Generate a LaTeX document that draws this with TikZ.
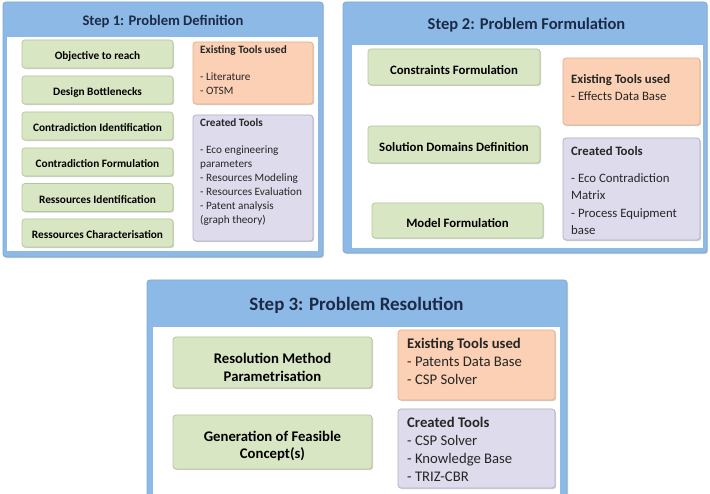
\documentclass[tikz,border=0pt]{standalone}
\usepackage{fontspec}
\setmainfont{Carlito}
\usetikzlibrary{shadows}
\definecolor{panelblue}{HTML}{8DB9E6}
\definecolor{panelborder}{HTML}{7EA9D8}
\definecolor{greenfill}{HTML}{D9E6C3}
\definecolor{greendraw}{HTML}{B3C799}
\definecolor{orangefill}{HTML}{FBD0B4}
\definecolor{orangedraw}{HTML}{E2AE8E}
\definecolor{purplefill}{HTML}{DEDCEC}
\definecolor{purpledraw}{HTML}{B0AEC2}
\definecolor{titletext}{HTML}{1B2A47}
\definecolor{bodytext}{HTML}{262626}
\begin{document}
\begin{tikzpicture}[x=1pt,y=-1pt,
  softshadow/.style={drop shadow={shadow xshift=1.1pt, shadow yshift=-1.1pt, fill=black, opacity=0.18}},
  panel/.style={draw=panelborder, fill=panelblue, rounded corners=3pt, line width=0.8pt, softshadow},
  innerwhite/.style={fill=white},
  steptitle/.style={text=titletext, font=\bfseries, inner sep=0pt},
  stepbox/.style={draw=greendraw, fill=greenfill, rounded corners=3pt, line width=0.7pt, inner sep=0pt, softshadow},
  steplabel/.style={align=center, inner sep=0pt, text=black},
  existbox/.style={draw=orangedraw, fill=orangefill, rounded corners=3pt, line width=0.7pt, inner sep=0pt, softshadow},
  createdbox/.style={draw=purpledraw, fill=purplefill, rounded corners=3pt, line width=0.7pt, inner sep=0pt, softshadow},
  tooltext/.style={align=left, anchor=north west, inner sep=0pt, text=bodytext},
  fA/.style={font=\bfseries\fontsize{11.3}{14}\selectfont},
  fB/.style={font=\bfseries\fontsize{12.8}{17.5}\selectfont},
  fC/.style={font=\bfseries\fontsize{14.7}{17.8}\selectfont},
  tA/.style={font=\fontsize{11.2}{14}\selectfont},
  tB/.style={font=\fontsize{12.8}{17.5}\selectfont},
  tC/.style={font=\fontsize{14.7}{17.9}\selectfont},
]
\useasboundingbox (0,0) rectangle (710,494);
\clip (0,0) rectangle (710,494);

% ---------- Step 1 ----------
\path[panel] (3,2) rectangle (323,257);
\path[innerwhite] (7,37) rectangle (318,251);
\node[steptitle, font=\bfseries\fontsize{14.6}{17}\selectfont] (t1) at (163,21.5) {Step 1: Problem Definition};

\node[stepbox, minimum width=151pt, minimum height=28pt] (a1) at (97.5,54) {};
\node[steplabel, fA] (a1t) at ([yshift=-2pt]a1.center) {Objective to reach};
\node[stepbox, minimum width=151pt, minimum height=28pt] (a2) at (97.5,90) {};
\node[steplabel, fA] (a2t) at ([yshift=-2pt]a2.center) {Design Bottlenecks};
\node[stepbox, minimum width=151pt, minimum height=28pt] (a3) at (97.5,126) {};
\node[steplabel, fA] (a3t) at ([yshift=-2pt]a3.center) {Contradiction Identification};
\node[stepbox, minimum width=151pt, minimum height=28pt] (a4) at (97.5,162) {};
\node[steplabel, fA] (a4t) at ([yshift=-2pt]a4.center) {Contradiction Formulation};
\node[stepbox, minimum width=151pt, minimum height=28pt] (a5) at (97.5,197.5) {};
\node[steplabel, fA] (a5t) at ([yshift=-2pt]a5.center) {Ressources Identification};
\node[stepbox, minimum width=151pt, minimum height=28pt] (a6) at (97.5,233) {};
\node[steplabel, fA] (a6t) at ([yshift=-2pt]a6.center) {Ressources Characterisation};

\node[existbox, minimum width=120pt, minimum height=62pt] (o1) at (253,73) {};
\node[tooltext, tA] (o1t) at (200,45.5) {\textbf{Existing Tools used}\\[13pt]- Literature\\- OTSM};
\node[createdbox, minimum width=120pt, minimum height=126pt] (p1) at (253,178) {};
\node[tooltext, tA] (p1t) at (200,118.5) {\textbf{Created Tools}\\[13pt]- Eco engineering\\parameters\\- Resources Modeling\\- Resources Evaluation\\- Patent analysis\\(graph theory)};

% ---------- Step 2 ----------
\path[panel] (343,2) rectangle (707,253);
\path[innerwhite] (352,45) rectangle (703,248);
\node[steptitle, font=\bfseries\fontsize{16.5}{19}\selectfont] (t2) at (526.5,25.5) {Step 2: Problem Formulation};

\node[stepbox, minimum width=172pt, minimum height=36pt] (b1) at (454,67) {};
\node[steplabel, fB] (b1t) at ([yshift=-3pt]b1.center) {Constraints Formulation};
\node[stepbox, minimum width=172pt, minimum height=37pt] (b2) at (454,144.5) {};
\node[steplabel, fB] (b2t) at ([yshift=-3pt]b2.center) {Solution Domains Definition};
\node[stepbox, minimum width=171pt, minimum height=35pt] (b3) at (457.5,220.5) {};
\node[steplabel, fB] (b3t) at ([yshift=-3pt]b3.center) {Model Formulation};

\node[existbox, minimum width=137pt, minimum height=67pt] (o2) at (631.5,91.5) {};
\node[tooltext, tB] (o2t) at (571,74) {\textbf{Existing Tools used}\\- Effects Data Base};
\node[createdbox, minimum width=137pt, minimum height=102pt] (p2) at (631.5,189) {};
\node[tooltext, tB] (p2t) at (571,146) {\textbf{Created Tools}\\[9.5pt]- Eco Contradiction\\Matrix\\- Process Equipment\\base};

% ---------- Step 3 ----------
\path[panel] (147,280) rectangle (567,510);
\path[innerwhite] (153,327) rectangle (560,510);
\node[steptitle, font=\bfseries\fontsize{18.9}{22}\selectfont] (t3) at (356.5,305) {Step 3: Problem Resolution};

\node[stepbox, minimum width=199pt, minimum height=51pt] (c1) at (272.5,362.5) {};
\node[steplabel, fC] (c1t) at ([yshift=-4.5pt]c1.center) {Resolution Method\\Parametrisation};
\node[stepbox, minimum width=199pt, minimum height=54pt] (c2) at (272.5,442) {};
\node[steplabel, fC] (c2t) at ([yshift=-4pt]c2.center) {Generation of Feasible\\Concept(s)};

\node[existbox, minimum width=157pt, minimum height=70pt] (o3) at (476.5,365) {};
\node[tooltext, tC] (o3t) at (407,338) {\textbf{Existing Tools used}\\- Patents Data Base\\- CSP Solver};
\node[createdbox, minimum width=157pt, minimum height=79pt] (p3) at (476.5,448.5) {};
\node[tooltext, tC] (p3t) at (407,417) {\textbf{Created Tools}\\- CSP Solver\\- Knowledge Base\\- TRIZ-CBR};
\end{tikzpicture}
\end{document}
